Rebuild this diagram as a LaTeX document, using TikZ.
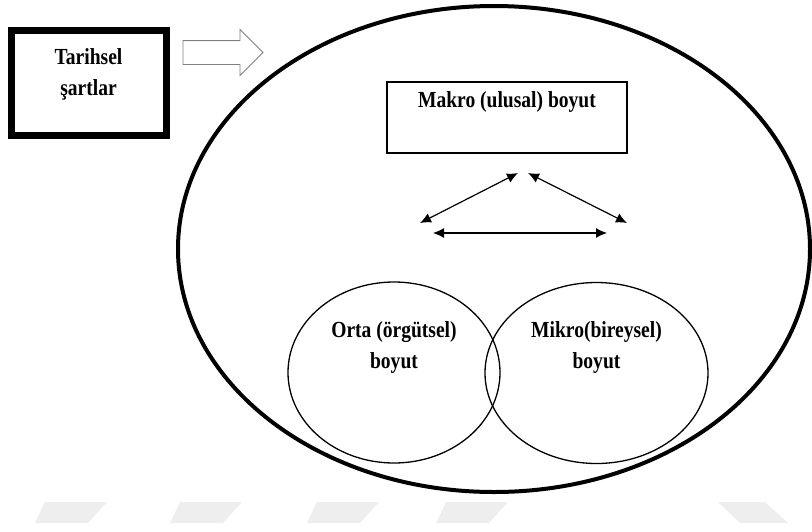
\documentclass[tikz,border=0pt]{standalone}
\usepackage{fontspec}
\setmainfont{Liberation Serif}[FakeStretch=0.85]
\usetikzlibrary{positioning,shapes.geometric,shapes.arrows,arrows.meta}

\begin{document}
\begin{tikzpicture}[x=1pt,y=-1pt,
    every node/.style={outer sep=0pt},
    yazi/.style={font=\bfseries\fontsize{23}{31}\selectfont,align=center,inner sep=0pt},
    kalin kutu/.style={draw,line width=7pt,minimum width=155pt,minimum height=105pt},
    ince kutu/.style={draw,line width=1.3pt,minimum width=240pt,minimum height=71pt},
    boyut/.style={draw,ellipse,line width=1.3pt,minimum height=181pt},
    cift ok/.style={{Latex[length=11pt,width=10pt]}-{Latex[length=11pt,width=10pt]},line width=1.2pt},
    filigran/.style={fill=gray!13}]

  \useasboundingbox (0,0) rectangle (812,531);

  % soluk filigran
  \foreach \x in {35,170,307,436}
    \fill[filigran] (\x,523) -- ++(53,0) -- ++(19,-21) -- ++(-62,0) -- cycle;
  \fill[filigran] (718,502) -- (765,502) -- (788,523) -- (740,523) -- cycle;

  \node[kalin kutu] (tarih) at (88.5,82.5) {};
  \node[yazi] (tarihyazi) [below=19pt of tarih.north] {Tarihsel\\şartlar};

  \node[single arrow,draw=gray,line width=0.9pt,minimum height=80pt,
        single arrow head extend=11pt,inner xsep=0pt,inner ysep=11.5pt] (gecis) at (217,52.5) {};

  \node[draw,ellipse,line width=4pt,minimum width=632pt,minimum height=486pt] (butun) at (494,249) {};

  \node[ince kutu] (makro) at (507,117.5) {};
  \node[yazi] (makroyazi) [below=10pt of makro.north] {Makro (ulusal) boyut};

  \node[boyut,minimum width=212pt] (orta) at (394,372.5) {};
  \node[yazi] (ortayazi) [below=40pt of orta.north] {Orta (örgütsel)\\boyut};
  \node[boyut,minimum width=223pt] (mikro) at (596.5,373) {};
  \node[yazi] (mikroyazi) [below=39pt of mikro.north] {Mikro(bireysel)\\boyut};

  \coordinate (solalt) at (420,223);
  \coordinate (ustsol) at (518,173);
  \coordinate (ustsag) at (528,173);
  \coordinate (sagalt) at (627,223);
  \coordinate (yatsol) at (433,233);
  \coordinate (yatsag) at (607,233);

  \draw[cift ok] (solalt) -- (ustsol);
  \draw[cift ok] (ustsag) -- (sagalt);
  \draw[cift ok] (yatsol) -- (yatsag);
\end{tikzpicture}
\end{document}
